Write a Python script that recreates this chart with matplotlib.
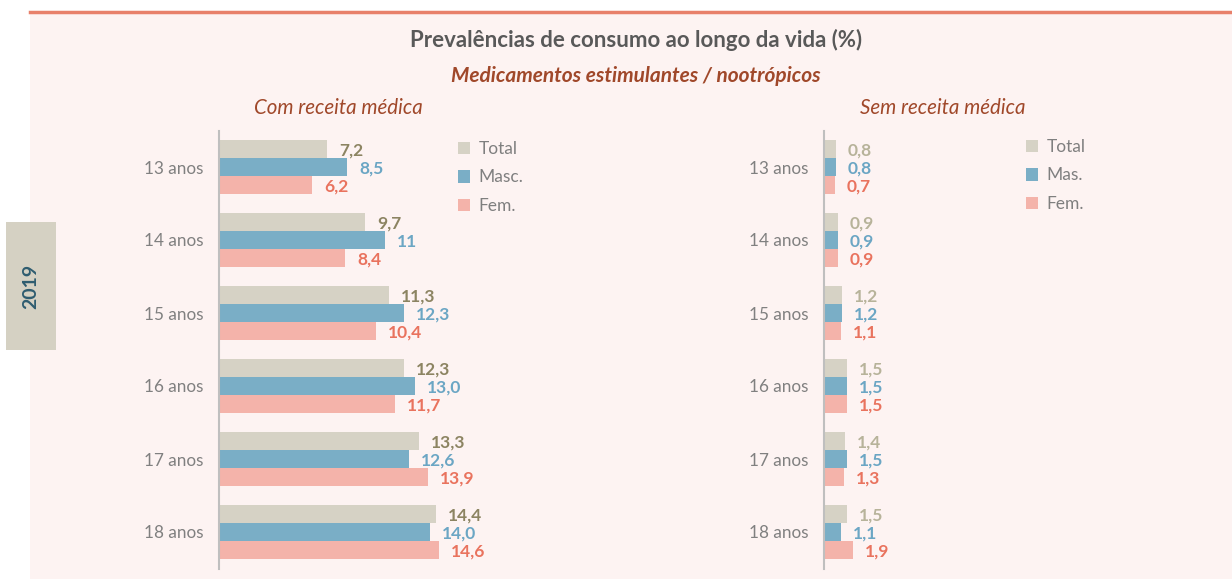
import matplotlib

matplotlib.use("Agg")
import matplotlib.pyplot as plt
from matplotlib.patches import Patch, Rectangle
import numpy as np

plt.rcParams["font.family"] = ["Lato", "DejaVu Sans"]

AGES = ["13 anos", "14 anos", "15 anos", "16 anos", "17 anos", "18 anos"]

# Com receita médica
COM_TOTAL = [7.2, 9.7, 11.3, 12.3, 13.3, 14.4]
COM_MASC = [8.5, 11.0, 12.3, 13.0, 12.6, 14.0]
COM_FEM = [6.2, 8.4, 10.4, 11.7, 13.9, 14.6]

# Sem receita médica
SEM_TOTAL = [0.8, 0.9, 1.2, 1.5, 1.4, 1.5]
SEM_MAS = [0.8, 0.9, 1.2, 1.5, 1.5, 1.1]
SEM_FEM = [0.7, 0.9, 1.1, 1.5, 1.3, 1.9]

# labels shown without decimal in the original
LABEL_OVERRIDES = {(0, 1, 1): "11"}

C_TOTAL = "#D6D2C5"
C_MASC = "#7AAEC6"
C_FEM = "#F4B3AA"
BG = "#FDF3F2"

W, H = 1232, 579
fig = plt.figure(figsize=(W / 100, H / 100), dpi=100)
fig.patch.set_facecolor("white")

# pink panel + top rule
fig.patches.append(Rectangle((30 / W, 0), 1 - 30 / W, 1 - 13 / H, transform=fig.transFigure,
                             facecolor=BG, edgecolor="none", zorder=-10))
fig.add_artist(plt.Line2D([30 / W, 1], [1 - 12 / H, 1 - 12 / H], color="#E8806A", lw=2.5,
                          transform=fig.transFigure))

# year box
fig.patches.append(Rectangle((6 / W, 1 - 350 / H), 50 / W, 128 / H, transform=fig.transFigure,
                             facecolor="#D5D1C3", edgecolor="none"))
fig.text(31 / W, 1 - 286 / H, "2019", rotation=90, ha="center", va="center",
         fontsize=14, fontweight="bold", color="#2F5D70")

fig.text(636 / W, 1 - 40 / H, "Prevalências de consumo ao longo da vida (%)", ha="center",
         va="center", fontsize=16, fontweight="bold", color="#595959")
fig.text(636 / W, 1 - 76 / H, "Medicamentos estimulantes / nootrópicos", ha="center",
         va="center", fontsize=15, fontweight="bold", style="italic", color="#A0482A")
fig.text(338 / W, 1 - 108 / H, "Com receita médica", ha="center", va="center",
         fontsize=14.8, style="italic", color="#A0482A")
fig.text(943 / W, 1 - 108 / H, "Sem receita médica", ha="center", va="center",
         fontsize=14.8, style="italic", color="#A0482A")

PX_PER_UNIT = 15.05
top_px, bot_px = 130.5, 568.5


def draw_panel(idx, left_px, width_px, series, label_colors, legend_names, legend_px):
    ax = fig.add_axes([left_px / W, 1 - bot_px / H, width_px / W, (bot_px - top_px) / H])
    ax.set_facecolor("none")
    y = np.arange(len(AGES))
    h = 18 / 73
    offsets = [-h, 0, h]
    colors = [C_TOTAL, C_MASC, C_FEM]
    for s, (vals, off, col, lc) in enumerate(zip(series, offsets, colors, label_colors)):
        ax.barh(y + off, vals, height=h, color=col, edgecolor="none")
        for i, v in enumerate(vals):
            txt = LABEL_OVERRIDES.get((idx, s, i), f"{v:.1f}".replace(".", ","))
            ax.annotate(txt, (v, y[i] + off), xytext=(12, -2), textcoords="offset pixels",
                        ha="left", va="center", fontsize=12.5, fontweight="bold", color=lc)
    ax.set_xlim(0, width_px / PX_PER_UNIT)
    ax.set_ylim(len(AGES) - 0.5, -0.5)
    ax.set_yticks(y)
    ax.set_yticklabels(AGES, fontsize=12.3, color="#808080")
    ax.tick_params(axis="y", length=0, pad=11)
    ax.set_xticks([])
    for sp in ["top", "right", "bottom"]:
        ax.spines[sp].set_visible(False)
    ax.spines["left"].set_color("#BFBFBF")
    ax.spines["left"].set_linewidth(1.5)

    handles = [Patch(facecolor=c, edgecolor="none") for c in colors]
    fig.legend(handles, legend_names, loc="upper left",
               bbox_to_anchor=(legend_px[0] / W, 1 - legend_px[1] / H),
               frameon=False, fontsize=12.5, labelcolor="#7F7F7F", handlelength=0.7,
               handleheight=0.7, handletextpad=0.5, labelspacing=0.72,
               borderpad=0, borderaxespad=0)
    return ax


draw_panel(0, 219, 380, [COM_TOTAL, COM_MASC, COM_FEM],
           ["#8C8462", "#6BA6C4", "#E9735E"], ["Total", "Masc.", "Fem."], (458, 141))
draw_panel(1, 824, 280, [SEM_TOTAL, SEM_MAS, SEM_FEM],
           ["#B7B39A", "#6BA6C4", "#E9735E"], ["Total", "Mas.", "Fem."], (1026, 139))

fig.savefig("out.png", dpi=100, facecolor=fig.get_facecolor())
